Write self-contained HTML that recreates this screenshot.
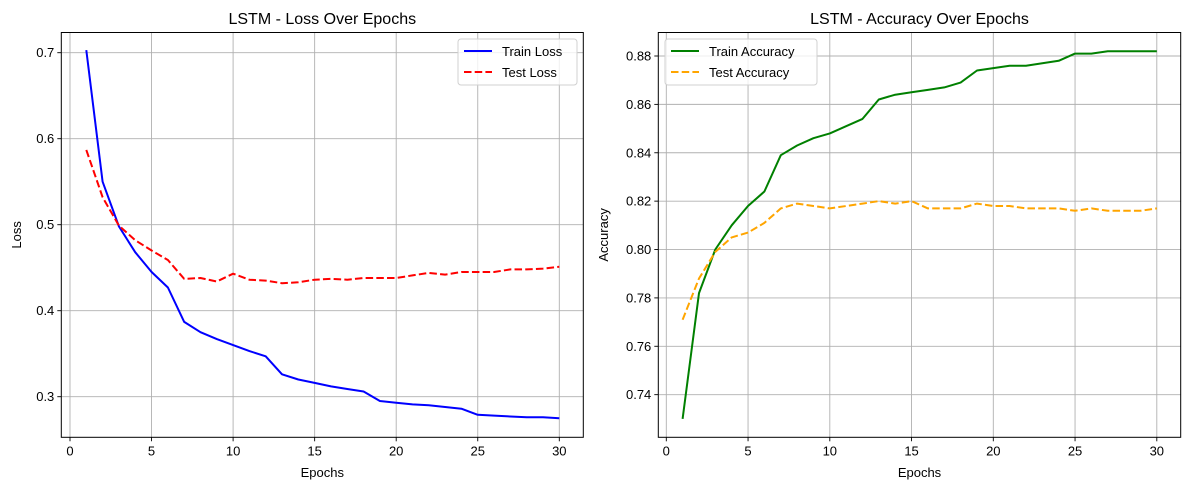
<!DOCTYPE html>
<html><head><meta charset="utf-8"><style>
html,body{margin:0;padding:0;background:#fff;}
svg{display:block;font-family:"Liberation Sans","DejaVu Sans",sans-serif;}
</style></head><body>
<svg id="chart" width="1189" height="490" viewBox="0 0 1189 490" xmlns="http://www.w3.org/2000/svg"></svg>
<script>
const epochs = Array.from({length:30},(_,i)=>i+1);
const trainLoss = [0.703,0.550,0.498,0.468,0.445,0.427,0.387,0.375,0.367,0.360,0.353,0.347,0.326,0.320,0.316,0.312,0.309,0.306,0.295,0.293,0.291,0.290,0.288,0.286,0.279,0.278,0.277,0.276,0.276,0.275];
const testLoss = [0.587,0.532,0.499,0.482,0.470,0.459,0.437,0.438,0.434,0.443,0.436,0.435,0.432,0.433,0.436,0.437,0.436,0.438,0.438,0.438,0.441,0.444,0.442,0.445,0.445,0.445,0.448,0.448,0.449,0.451];
const trainAcc = [0.730,0.782,0.800,0.810,0.818,0.824,0.839,0.843,0.846,0.848,0.851,0.854,0.862,0.864,0.865,0.866,0.867,0.869,0.874,0.875,0.876,0.876,0.877,0.878,0.881,0.881,0.882,0.882,0.882,0.882];
const testAcc = [0.771,0.788,0.799,0.805,0.807,0.811,0.817,0.819,0.818,0.817,0.818,0.819,0.820,0.819,0.820,0.817,0.817,0.817,0.819,0.818,0.818,0.817,0.817,0.817,0.816,0.817,0.816,0.816,0.816,0.817];
const xTicks = [0,5,10,15,20,25,30];
const lossTicks = [0.3,0.4,0.5,0.6,0.7];
const accTicks = [0.74,0.76,0.78,0.80,0.82,0.84,0.86,0.88];

const NS="http://www.w3.org/2000/svg";
const svg=document.getElementById('chart');
function mk(tag,attrs,parent){const e=document.createElementNS(NS,tag);for(const k in attrs)e.setAttribute(k,attrs[k]);(parent||svg).appendChild(e);return e;}

function panel(cfg){
  const g=mk('g',{});
  
  
  const {L,R,T,B}=cfg;
  const sx=v=>cfg.x0px+(v-0)*cfg.xs;
  const sy=v=>cfg.yRef+(cfg.yRefV-v)*cfg.ys;
  xTicks.forEach(t=>{
    const x=sx(t);
    const gl=mk('line',{x1:x,x2:x,y1:T,y2:B,stroke:'#b0b0b0','stroke-width':0.9},g);
    
    
    mk('line',{x1:x,x2:x,y1:B,y2:B+4,stroke:'#000','stroke-width':0.9},g);
    const tx=mk('text',{x:x,y:B+18,'text-anchor':'middle','font-size':13,fill:'#000'},g);
    tx.textContent=t;
    
    
  });
  cfg.yTicks.forEach(t=>{
    const y=sy(t);
    const gl=mk('line',{x1:L,x2:R,y1:y,y2:y,stroke:'#b0b0b0','stroke-width':0.9},g);
    
    
    mk('line',{x1:L-4,x2:L,y1:y,y2:y,stroke:'#000','stroke-width':0.9},g);
    const tx=mk('text',{x:L-7,y:y+4.5,'text-anchor':'end','font-size':13,fill:'#000'},g);
    tx.textContent=cfg.fmt(t);
    
    
  });
  cfg.series.forEach(s=>{
    const d=epochs.map((e,i)=>(i?'L':'M')+sx(e).toFixed(1)+','+sy(s.data[i]).toFixed(1)).join(' ');
    const p=mk('path',{d:d,fill:'none',stroke:s.color,'stroke-width':2,'stroke-dasharray':s.dash||'none','stroke-linejoin':'round'},g);
    
    
  });
  const fr=mk('rect',{x:L,y:T,width:R-L,height:B-T,fill:'none',stroke:'#000','stroke-width':1},g);
  
  
  const ti=mk('text',{x:(L+R)/2,y:24,'text-anchor':'middle','font-size':16,fill:'#000'},g);
  ti.textContent=cfg.title;
  
  
  const xl=mk('text',{x:(L+R)/2,y:477,'text-anchor':'middle','font-size':13,fill:'#000'},g);
  xl.textContent='Epochs';
  
  
  const yl=mk('text',{x:0,y:0,'text-anchor':'middle','font-size':13,fill:'#000',transform:`translate(${cfg.ylx},${(T+B)/2}) rotate(-90)`},g);
  yl.textContent=cfg.ylabel;
  
  
  const lg=mk('g',{},g);
  
  
  mk('rect',{x:cfg.lgx,y:39,width:cfg.lgw,height:46,rx:3,fill:'#fff','fill-opacity':0.8,stroke:'#d0d0d0'},lg);
  cfg.series.forEach((s,i)=>{
    const y=51+i*21;
    mk('line',{x1:cfg.lgx+6,x2:cfg.lgx+34,y1:y,y2:y,stroke:s.color,'stroke-width':2,'stroke-dasharray':s.dash||'none'},lg);
    const t=mk('text',{x:cfg.lgx+44,y:y+5,'font-size':13,fill:'#000'},lg);
    t.textContent=s.label;
    
    
  });
}

panel({name:'loss-panel',L:61.3,R:583.3,T:32.5,B:437.3,x0px:70,xs:16.31,yRef:52.7,yRefV:0.7,ys:860,
  yTicks:lossTicks,fmt:t=>t.toFixed(1),title:'LSTM - Loss Over Epochs',ylabel:'Loss',ylx:21,lgx:458,lgw:119,
  series:[{id:'train-loss-line',label:'Train Loss',data:trainLoss,color:'#0000ff'},
          {id:'test-loss-line',label:'Test Loss',data:testLoss,color:'#ff0000',dash:'7.5,3.2'}]});
panel({name:'accuracy-panel',L:658.3,R:1180.7,T:32.5,B:437.3,x0px:666.3,xs:16.35,yRef:56,yRefV:0.88,ys:2419,
  yTicks:accTicks,fmt:t=>t.toFixed(2),title:'LSTM - Accuracy Over Epochs',ylabel:'Accuracy',ylx:608,lgx:665,lgw:152,
  series:[{id:'train-accuracy-line',label:'Train Accuracy',data:trainAcc,color:'#008000'},
          {id:'test-accuracy-line',label:'Test Accuracy',data:testAcc,color:'#ffa500',dash:'7.5,3.2'}]});
</script>
</body></html>
